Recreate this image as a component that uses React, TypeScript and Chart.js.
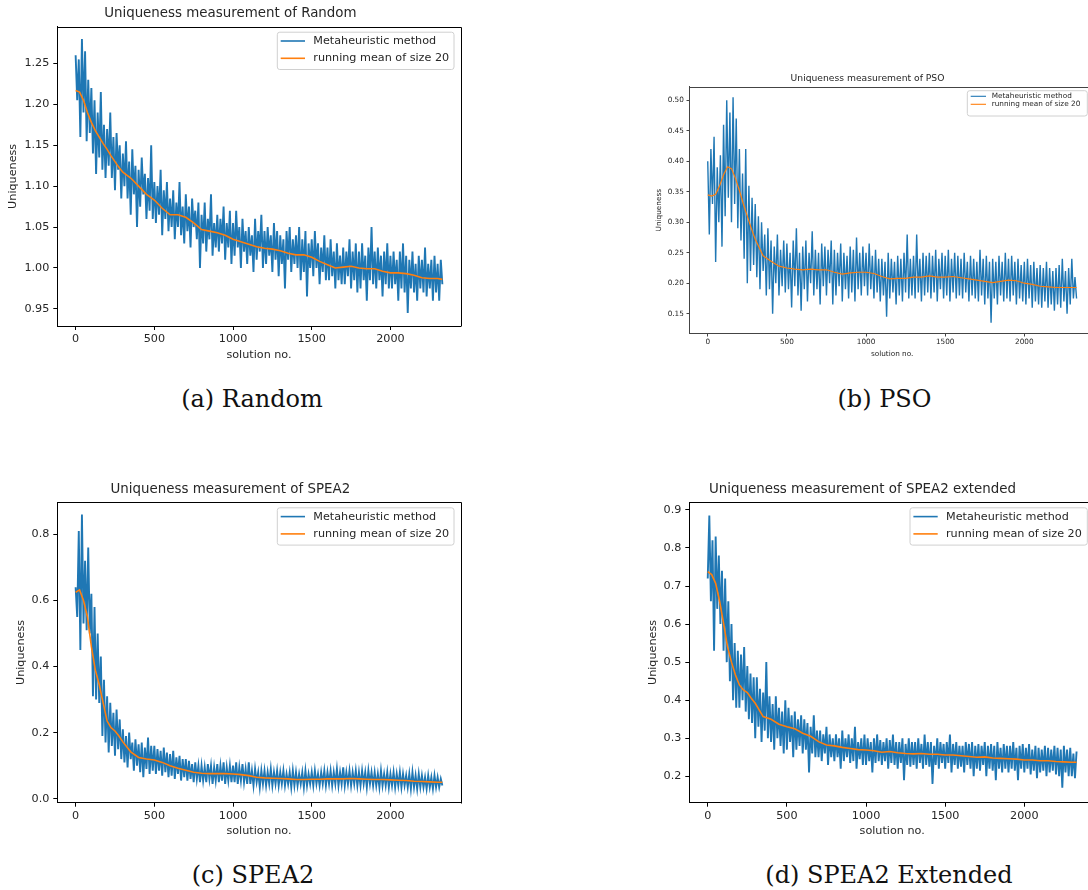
import React, { useEffect, useRef } from "react";
import { Chart, registerables } from "chart.js";

Chart.register(...registerables);

// ---------------- data ----------------
const SERIES_LABEL = "Metaheuristic method";
const MEAN_LABEL = "running mean of size 20";
const X_TITLE = "solution no.";
const Y_TITLE = "Uniqueness";
const X_TICKS = [0, 500, 1000, 1500, 2000];
const SAMPLE_STEP = 10; // solution numbers between the sampled points of the raw series

const MEAN_X = [
  0, 25, 50, 75, 100, 125, 150, 175, 200, 225, 250, 275, 300,
  350, 400, 450, 500, 550, 600, 650, 700, 750, 800,
  850, 900, 950, 1000, 1050, 1100, 1150, 1200, 1250, 1300,
  1350, 1400, 1450, 1500, 1550, 1600, 1650, 1700, 1750, 1800,
  1850, 1900, 1950, 2000, 2050, 2100, 2150, 2200, 2250, 2300,
  2330,
];

const RANDOM_VALUES = [
  1.26, 1.205, 1.255, 1.16, 1.28, 1.19, 1.265, 1.155, 1.23, 1.165,
  1.22, 1.14, 1.205, 1.115, 1.19, 1.135, 1.215, 1.12, 1.175, 1.11,
  1.17, 1.125, 1.19, 1.11, 1.16, 1.095, 1.165, 1.12, 1.15, 1.085,
  1.14, 1.1, 1.155, 1.085, 1.13, 1.065, 1.145, 1.09, 1.125, 1.05,
  1.12, 1.075, 1.135, 1.09, 1.115, 1.06, 1.11, 1.07, 1.15, 1.06,
  1.105, 1.055, 1.1, 1.065, 1.12, 1.04, 1.095, 1.06, 1.105, 1.045,
  1.085, 1.05, 1.095, 1.035, 1.08, 1.05, 1.105, 1.04, 1.075, 1.03,
  1.09, 1.045, 1.075, 1.025, 1.085, 1.05, 1.07, 1.035, 1.08, 1.0,
  1.065, 1.03, 1.08, 1.02, 1.06, 1.035, 1.09, 1.015, 1.055, 1.025,
  1.065, 1.02, 1.06, 1.03, 1.075, 1.01, 1.055, 1.025, 1.07, 1.005,
  1.055, 1.015, 1.07, 1.025, 1.05, 1.0, 1.06, 1.02, 1.045, 1.005,
  1.05, 1.015, 1.04, 0.995, 1.06, 1.01, 1.045, 1.02, 1.065, 1.0,
  1.045, 1.005, 1.05, 1.015, 1.04, 0.995, 1.055, 1.01, 1.045, 0.99,
  1.04, 1.005, 1.035, 0.975, 1.045, 1.01, 1.05, 0.995, 1.035, 1.005,
  1.04, 1.0, 1.05, 0.985, 1.035, 0.995, 1.045, 0.965, 1.03, 1.0,
  1.035, 0.99, 1.045, 1.0, 1.03, 0.98, 1.025, 0.995, 1.04, 0.985,
  1.025, 0.985, 1.035, 0.99, 1.02, 0.975, 1.03, 0.985, 1.015, 0.98,
  1.025, 0.98, 1.02, 0.99, 1.035, 0.975, 1.02, 0.985, 1.03, 0.97,
  1.02, 0.975, 1.03, 0.985, 1.015, 0.96, 1.025, 0.985, 1.05, 0.98,
  1.02, 0.975, 1.025, 0.985, 1.015, 0.965, 1.02, 0.98, 1.03, 0.975,
  1.015, 0.975, 1.02, 0.98, 1.01, 0.96, 1.02, 0.975, 1.03, 0.97,
  1.015, 0.945, 1.01, 0.975, 1.02, 0.97, 1.005, 0.96, 1.015, 0.975,
  1.01, 0.97, 1.025, 0.965, 1.005, 0.975, 1.01, 0.96, 1.015, 0.97,
  1.005, 0.96, 1.01, 0.98,
];
const RANDOM_MEAN = [
  1.217, 1.215, 1.205, 1.19, 1.178, 1.168, 1.16, 1.152, 1.145, 1.137, 1.13, 1.123, 1.117,
  1.11, 1.1, 1.09, 1.083, 1.073, 1.065, 1.065, 1.062, 1.055, 1.047,
  1.045, 1.043, 1.04, 1.035, 1.032, 1.029, 1.026, 1.024, 1.023, 1.021,
  1.018, 1.016, 1.016, 1.013, 1.008, 1.004, 1.0, 1.001, 1.002, 1.0,
  0.999, 0.999, 0.996, 0.994, 0.994, 0.993, 0.991, 0.988, 0.987, 0.987,
  0.986,
];
const RANDOM_Y_TICKS = [0.95, 1.0, 1.05, 1.1, 1.15, 1.2, 1.25];

const PSO_VALUES = [
  0.4, 0.28, 0.42, 0.33, 0.44, 0.235, 0.39, 0.3, 0.41, 0.26,
  0.46, 0.31, 0.5, 0.34, 0.48, 0.3, 0.505, 0.33, 0.47, 0.29,
  0.42, 0.27, 0.38, 0.24, 0.42, 0.2, 0.36, 0.22, 0.34, 0.23,
  0.33, 0.21, 0.31, 0.19, 0.3, 0.22, 0.28, 0.18, 0.29, 0.19,
  0.27, 0.15, 0.26, 0.2, 0.28, 0.18, 0.255, 0.195, 0.27, 0.185,
  0.265, 0.19, 0.25, 0.16, 0.27, 0.195, 0.29, 0.18, 0.25, 0.155,
  0.26, 0.19, 0.27, 0.17, 0.25, 0.2, 0.285, 0.18, 0.255, 0.19,
  0.25, 0.165, 0.265, 0.195, 0.26, 0.18, 0.255, 0.2, 0.27, 0.165,
  0.255, 0.18, 0.25, 0.195, 0.265, 0.17, 0.25, 0.19, 0.245, 0.175,
  0.26, 0.185, 0.255, 0.17, 0.275, 0.19, 0.25, 0.18, 0.26, 0.195,
  0.25, 0.18, 0.265, 0.19, 0.245, 0.175, 0.255, 0.185, 0.24, 0.17,
  0.24, 0.18, 0.235, 0.145, 0.25, 0.175, 0.24, 0.185, 0.235, 0.165,
  0.245, 0.18, 0.24, 0.17, 0.25, 0.185, 0.28, 0.175, 0.24, 0.18,
  0.245, 0.175, 0.28, 0.185, 0.24, 0.17, 0.25, 0.18, 0.245, 0.185,
  0.25, 0.175, 0.245, 0.185, 0.255, 0.17, 0.24, 0.19, 0.25, 0.175,
  0.245, 0.18, 0.255, 0.17, 0.24, 0.185, 0.25, 0.175, 0.245, 0.18,
  0.24, 0.175, 0.25, 0.185, 0.235, 0.17, 0.245, 0.18, 0.24, 0.175,
  0.235, 0.17, 0.255, 0.18, 0.24, 0.165, 0.245, 0.175, 0.235, 0.135,
  0.24, 0.175, 0.235, 0.165, 0.245, 0.18, 0.235, 0.17, 0.25, 0.175,
  0.24, 0.17, 0.245, 0.18, 0.235, 0.165, 0.24, 0.175, 0.23, 0.17,
  0.235, 0.165, 0.24, 0.175, 0.23, 0.16, 0.235, 0.17, 0.225, 0.165,
  0.23, 0.16, 0.225, 0.17, 0.235, 0.16, 0.225, 0.165, 0.22, 0.155,
  0.225, 0.165, 0.23, 0.16, 0.24, 0.17, 0.22, 0.15, 0.225, 0.165,
  0.24, 0.175, 0.21, 0.175,
];
const PSO_MEAN = [
  0.345, 0.343, 0.346, 0.36, 0.378, 0.391, 0.388, 0.372, 0.352, 0.33, 0.31, 0.29, 0.272,
  0.245, 0.236, 0.228, 0.225, 0.223, 0.222, 0.223, 0.222, 0.222, 0.218,
  0.215, 0.217, 0.218, 0.218, 0.216, 0.211, 0.207, 0.208, 0.208, 0.21,
  0.21, 0.212, 0.21, 0.21, 0.211, 0.209, 0.207, 0.205, 0.203, 0.201,
  0.203, 0.205, 0.204, 0.2, 0.198, 0.195, 0.194, 0.193, 0.193, 0.193,
  0.193,
];
const PSO_Y_TICKS = [0.15, 0.2, 0.25, 0.3, 0.35, 0.4, 0.45, 0.5];

const SPEA2_VALUES = [
  0.64, 0.55, 0.81, 0.45, 0.86, 0.53, 0.72, 0.51, 0.76, 0.5,
  0.62, 0.31, 0.58, 0.3, 0.5, 0.29, 0.43, 0.19, 0.36, 0.17,
  0.31, 0.14, 0.29, 0.16, 0.26, 0.13, 0.27, 0.15, 0.24, 0.12,
  0.21, 0.11, 0.19, 0.095, 0.2, 0.12, 0.17, 0.085, 0.18, 0.1,
  0.165, 0.08, 0.17, 0.065, 0.155, 0.09, 0.185, 0.075, 0.16, 0.085,
  0.16, 0.075, 0.15, 0.085, 0.145, 0.07, 0.155, 0.08, 0.14, 0.065,
  0.135, 0.07, 0.145, 0.06, 0.125, 0.075, 0.13, 0.055, 0.12, 0.065,
  0.12, 0.055, 0.115, 0.06, 0.105, 0.05, 0.11, 0.06, 0.1, 0.05,
  0.1, 0.055, 0.095, 0.05, 0.105, 0.06, 0.1, 0.045, 0.095, 0.055,
  0.105, 0.05, 0.1, 0.055, 0.11, 0.045, 0.095, 0.055, 0.1, 0.05,
  0.1, 0.05, 0.11, 0.045, 0.095, 0.055, 0.105, 0.05, 0.09, 0.045,
  0.11, 0.045, 0.085, 0.04, 0.09, 0.05, 0.08, 0.035, 0.085, 0.045,
  0.085, 0.04, 0.08, 0.045, 0.09, 0.04, 0.08, 0.045, 0.085, 0.04,
  0.08, 0.045, 0.085, 0.04, 0.075, 0.045, 0.08, 0.035, 0.085, 0.04,
  0.08, 0.04, 0.075, 0.045, 0.08, 0.035, 0.085, 0.04, 0.075, 0.045,
  0.08, 0.04, 0.085, 0.045, 0.075, 0.04, 0.08, 0.045, 0.085, 0.04,
  0.08, 0.045, 0.085, 0.04, 0.08, 0.045, 0.09, 0.04, 0.08, 0.045,
  0.095, 0.04, 0.08, 0.045, 0.085, 0.04, 0.08, 0.045, 0.085, 0.04,
  0.08, 0.04, 0.085, 0.045, 0.08, 0.035, 0.085, 0.045, 0.08, 0.04,
  0.08, 0.04, 0.075, 0.035, 0.085, 0.04, 0.075, 0.04, 0.08, 0.035,
  0.075, 0.04, 0.08, 0.035, 0.075, 0.04, 0.08, 0.035, 0.075, 0.04,
  0.07, 0.035, 0.075, 0.03, 0.08, 0.035, 0.07, 0.03, 0.075, 0.035,
  0.07, 0.035, 0.065, 0.03, 0.07, 0.035, 0.065, 0.03, 0.07, 0.035,
  0.065, 0.035, 0.06, 0.04,
];
const SPEA2_MEAN = [
  0.625, 0.632, 0.6, 0.55, 0.46, 0.39, 0.345, 0.29, 0.235, 0.215, 0.205, 0.19, 0.172,
  0.142, 0.125, 0.12, 0.117, 0.11, 0.1, 0.092, 0.086, 0.08, 0.077,
  0.076, 0.076, 0.076, 0.075, 0.073, 0.07, 0.065, 0.063, 0.062, 0.061,
  0.06, 0.058, 0.058, 0.059, 0.059, 0.06, 0.06, 0.06, 0.061, 0.06,
  0.059, 0.058, 0.058, 0.057, 0.056, 0.055, 0.053, 0.052, 0.051, 0.05,
  0.05,
];
const SPEA2_Y_TICKS = [0.0, 0.2, 0.4, 0.6, 0.8];

const EXT_VALUES = [
  0.72, 0.885, 0.66, 0.82, 0.53, 0.83, 0.64, 0.78, 0.6, 0.74,
  0.53, 0.72, 0.5, 0.66, 0.45, 0.6, 0.4, 0.55, 0.38, 0.53,
  0.38, 0.52, 0.4, 0.54, 0.37, 0.49, 0.35, 0.47, 0.34, 0.46,
  0.3, 0.46, 0.33, 0.43, 0.29, 0.42, 0.32, 0.5, 0.3, 0.41,
  0.29, 0.39, 0.27, 0.41, 0.3, 0.38, 0.28, 0.37, 0.26, 0.4,
  0.27, 0.38, 0.29, 0.36, 0.25, 0.37, 0.27, 0.35, 0.28, 0.36,
  0.26, 0.35, 0.27, 0.34, 0.21, 0.33, 0.26, 0.36, 0.25, 0.32,
  0.25, 0.32, 0.24, 0.31, 0.26, 0.33, 0.23, 0.31, 0.25, 0.3,
  0.24, 0.31, 0.25, 0.3, 0.22, 0.32, 0.24, 0.3, 0.25, 0.31,
  0.235, 0.3, 0.24, 0.33, 0.22, 0.29, 0.245, 0.3, 0.23, 0.31,
  0.23, 0.3, 0.24, 0.29, 0.21, 0.3, 0.235, 0.31, 0.24, 0.295,
  0.23, 0.29, 0.24, 0.3, 0.22, 0.295, 0.235, 0.31, 0.23, 0.29,
  0.22, 0.29, 0.235, 0.3, 0.19, 0.285, 0.23, 0.3, 0.225, 0.29,
  0.23, 0.29, 0.22, 0.3, 0.235, 0.285, 0.22, 0.31, 0.23, 0.29,
  0.225, 0.29, 0.18, 0.28, 0.23, 0.3, 0.22, 0.29, 0.235, 0.285,
  0.22, 0.29, 0.235, 0.31, 0.21, 0.285, 0.23, 0.29, 0.22, 0.28,
  0.225, 0.28, 0.21, 0.29, 0.23, 0.285, 0.22, 0.29, 0.2, 0.28,
  0.22, 0.285, 0.215, 0.28, 0.23, 0.29, 0.2, 0.28, 0.22, 0.285,
  0.215, 0.28, 0.19, 0.29, 0.22, 0.275, 0.21, 0.285, 0.22, 0.28,
  0.21, 0.28, 0.22, 0.29, 0.215, 0.275, 0.19, 0.28, 0.22, 0.285,
  0.21, 0.275, 0.22, 0.285, 0.205, 0.27, 0.215, 0.28, 0.195, 0.275,
  0.21, 0.27, 0.215, 0.28, 0.2, 0.275, 0.21, 0.27, 0.215, 0.28,
  0.205, 0.275, 0.2, 0.27, 0.17, 0.28, 0.21, 0.27, 0.2, 0.275,
  0.2, 0.26, 0.195, 0.265,
];
const EXT_MEAN = [
  0.738, 0.73, 0.707, 0.66, 0.602, 0.54, 0.5, 0.466, 0.44, 0.427, 0.42, 0.405, 0.392,
  0.357, 0.35, 0.337, 0.33, 0.325, 0.313, 0.305, 0.291, 0.282, 0.28,
  0.276, 0.273, 0.27, 0.269, 0.267, 0.263, 0.265, 0.262, 0.26, 0.259,
  0.26, 0.258, 0.258, 0.256, 0.256, 0.254, 0.252, 0.25, 0.251, 0.248,
  0.247, 0.246, 0.245, 0.243, 0.243, 0.241, 0.241, 0.239, 0.238, 0.237,
  0.237,
];
const EXT_Y_TICKS = [0.2, 0.3, 0.4, 0.5, 0.6, 0.7, 0.8, 0.9];

// ---------------- styling / layout ----------------
const BLUE = "#1f77b4";
const ORANGE = "#ff7f0e";
const TEXT = "#262626";
const SANS = "'DejaVu Sans', 'Noto Sans', sans-serif";
const X_MIN = -116.5;
const X_MAX = 2446.5;

type LegendSpec = {
  width: number; height: number; rightGap: number; topGap: number;
  rows: number[]; lineStart: number; lineEnd: number; textStart: number;
  fontSize: number; lineWidth: number;
};
type Panel = {
  title: string; caption: string;
  values: number[]; mean: number[]; yTicks: number[]; yDecimals: number;
  yMin: number; yMax: number;
  box: { left: number; top: number; width: number; height: number };
  plot: { left: number; top: number; right: number; bottom: number };
  titleSize: number; tickSize: number;
  titleY: number; yTitleX: number; xTitleY: number;
  tickLen: number; xTickPad: number; yTickPad: number;
  lineWidth: number; meanWidth: number; spine: string;
  legend: LegendSpec;
  captionX: number; captionY: number;
};

const BIG_LEGEND = (width: number, rightGap: number): LegendSpec => ({
  width, height: 37.3, rightGap, topGap: 5.5,
  rows: [8.8, 26.1], lineStart: 3.4, lineEnd: 27.7, textStart: 36,
  fontSize: 11.2, lineWidth: 1.6,
});

const PANELS: Panel[] = [
  {
    title: "Uniqueness measurement of Random", caption: "(a) Random",
    values: RANDOM_VALUES, mean: RANDOM_MEAN, yTicks: RANDOM_Y_TICKS, yDecimals: 2,
    yMin: 0.929, yMax: 1.295,
    box: { left: 0, top: 0, width: 472, height: 365 },
    plot: { left: 57.3, top: 26.7, right: 460.7, bottom: 326 },
    titleSize: 13.4, tickSize: 11.2, titleY: 14, yTitleX: 13, xTitleY: 355,
    tickLen: 4, xTickPad: 2.6, yTickPad: 4, lineWidth: 1.9, meanWidth: 1.6, spine: "#000",
    legend: BIG_LEGEND(176.7, 6.7),
    captionX: 252, captionY: 399,
  },
  {
    title: "Uniqueness measurement of PSO", caption: "(b) PSO",
    values: PSO_VALUES, mean: PSO_MEAN, yTicks: PSO_Y_TICKS, yDecimals: 2,
    yMin: 0.1172, yMax: 0.5223,
    box: { left: 640, top: 60, width: 460, height: 300 },
    plot: { left: 689.3, top: 86.7, right: 1095, bottom: 333.7 },
    titleSize: 9.2, tickSize: 7.3, titleY: 78.3, yTitleX: 659.3, xTitleY: 354,
    tickLen: 2.8, xTickPad: 1.6, yTickPad: 2.6, lineWidth: 1.4, meanWidth: 1.2, spine: "#444",
    legend: {
      width: 120, height: 25.3, rightGap: 7.7, topGap: 4,
      rows: [5.6, 13.6], lineStart: 3.4, lineEnd: 18.7, textStart: 24.4,
      fontSize: 7.3, lineWidth: 1.1,
    },
    captionX: 884.5, captionY: 399,
  },
  {
    title: "Uniqueness measurement of SPEA2", caption: "(c) SPEA2",
    values: SPEA2_VALUES, mean: SPEA2_MEAN, yTicks: SPEA2_Y_TICKS, yDecimals: 1,
    yMin: -0.012, yMax: 0.897,
    box: { left: 0, top: 470, width: 472, height: 370 },
    plot: { left: 57.3, top: 502.3, right: 460.7, bottom: 802.7 },
    titleSize: 13.4, tickSize: 11.2, titleY: 490, yTitleX: 20.7, xTitleY: 831,
    tickLen: 4, xTickPad: 2.6, yTickPad: 4, lineWidth: 1.9, meanWidth: 1.6, spine: "#000",
    legend: BIG_LEGEND(176.7, 6.7),
    captionX: 253, captionY: 875,
  },
  {
    title: "Uniqueness measurement of SPEA2 extended", caption: "(d) SPEA2 Extended",
    values: EXT_VALUES, mean: EXT_MEAN, yTicks: EXT_Y_TICKS, yDecimals: 1,
    yMin: 0.1306, yMax: 0.92,
    box: { left: 630, top: 470, width: 470, height: 370 },
    plot: { left: 689.3, top: 502.3, right: 1095, bottom: 802.7 },
    titleSize: 13.4, tickSize: 11.2, titleY: 490, yTitleX: 652.7, xTitleY: 831,
    tickLen: 4, xTickPad: 2.6, yTickPad: 4, lineWidth: 1.9, meanWidth: 1.6, spine: "#000",
    legend: BIG_LEGEND(177.3, 7.7),
    captionX: 889, captionY: 875,
  },
];

function ChartPanel({ panel }: { panel: Panel }) {
  const ref = useRef<HTMLCanvasElement | null>(null);

  useEffect(() => {
    const canvas = ref.current;
    if (!canvas) return;
    const p = panel;
    const lhTitle = p.titleSize * 1.2;
    const lhTick = p.tickSize * 1.2;
    const padTop = p.titleY - p.box.top - lhTitle / 2;
    const titleBottomPad = p.plot.top - p.box.top - padTop - lhTitle;
    const yAxisWidth = p.plot.left - p.box.left;
    const xAxisHeight = p.box.top + p.box.height - p.plot.bottom;
    const padRight = p.box.left + p.box.width - p.plot.right;
    const xTitleBottomPad = p.box.top + p.box.height - p.xTitleY - lhTick / 2;
    const yTitleTopPad = p.yTitleX - p.box.left - lhTick / 2;
    const tickFont = { family: SANS, size: p.tickSize, lineHeight: 1.2 };

    const framePlugin = {
      id: "frame",
      afterDatasetsDraw(chart: any) {
        const { ctx, chartArea: a } = chart;
        ctx.save();
        ctx.strokeStyle = p.spine;
        ctx.lineWidth = 1;
        ctx.beginPath();
        ctx.moveTo(Math.round(a.left) + 0.5, Math.round(a.top) + 0.5);
        ctx.lineTo(Math.round(a.right) + 0.5, Math.round(a.top) + 0.5);
        ctx.lineTo(Math.round(a.right) + 0.5, Math.round(a.bottom) + 0.5);
        ctx.stroke();
        ctx.restore();
      },
    };

    const legendPlugin = {
      id: "innerLegend",
      afterDraw(chart: any) {
        const { ctx, chartArea: a } = chart;
        const L = p.legend;
        const bx = a.right - L.rightGap - L.width;
        const by = a.top + L.topGap;
        ctx.save();
        ctx.beginPath();
        const r = 2.5;
        ctx.moveTo(bx + r, by);
        ctx.lineTo(bx + L.width - r, by);
        ctx.arcTo(bx + L.width, by, bx + L.width, by + r, r);
        ctx.lineTo(bx + L.width, by + L.height - r);
        ctx.arcTo(bx + L.width, by + L.height, bx + L.width - r, by + L.height, r);
        ctx.lineTo(bx + r, by + L.height);
        ctx.arcTo(bx, by + L.height, bx, by + L.height - r, r);
        ctx.lineTo(bx, by + r);
        ctx.arcTo(bx, by, bx + r, by, r);
        ctx.closePath();
        ctx.fillStyle = "rgba(255,255,255,0.8)";
        ctx.fill();
        ctx.strokeStyle = "#d0d0d0";
        ctx.lineWidth = 1;
        ctx.stroke();
        const items = [chart.data.datasets[0], chart.data.datasets[1]];
        ctx.font = `${L.fontSize}px ${SANS}`;
        ctx.textBaseline = "middle";
        ctx.textAlign = "left";
        items.forEach((ds: any, i: number) => {
          const y = by + L.rows[i];
          ctx.strokeStyle = ds.borderColor;
          ctx.lineWidth = L.lineWidth;
          ctx.beginPath();
          ctx.moveTo(bx + L.lineStart, y);
          ctx.lineTo(bx + L.lineEnd, y);
          ctx.stroke();
          ctx.fillStyle = TEXT;
          ctx.fillText(ds.label, bx + L.textStart, y);
        });
        ctx.restore();
      },
    };

    const chart = new Chart(canvas, {
      type: "line",
      data: {
        datasets: [
          {
            label: SERIES_LABEL,
            data: p.values.map((v, i) => ({ x: i * SAMPLE_STEP, y: v })),
            borderColor: BLUE,
            backgroundColor: BLUE,
            borderWidth: p.lineWidth,
            pointRadius: 0,
            tension: 0,
            order: 1,
          },
          {
            label: MEAN_LABEL,
            data: MEAN_X.map((x, i) => ({ x, y: p.mean[i] })),
            borderColor: ORANGE,
            backgroundColor: ORANGE,
            borderWidth: p.meanWidth,
            pointRadius: 0,
            tension: 0,
            order: 0,
          },
        ],
      },
      options: {
        responsive: false,
        animation: false,
        devicePixelRatio: 1,
        layout: { padding: { left: 0, top: padTop, right: padRight, bottom: 0 } },
        plugins: {
          legend: { display: false },
          tooltip: { enabled: false },
          title: {
            display: true,
            text: p.title,
            color: TEXT,
            font: { family: SANS, size: p.titleSize, weight: "normal", lineHeight: 1.2 },
            padding: { top: 0, bottom: titleBottomPad },
          },
        },
        scales: {
          x: {
            type: "linear",
            min: X_MIN,
            max: X_MAX,
            afterBuildTicks: (scale: any) => {
              scale.ticks = X_TICKS.map((v) => ({ value: v }));
            },
            afterFit: (scale: any) => {
              scale.height = xAxisHeight;
            },
            ticks: {
              autoSkip: false,
              maxRotation: 0,
              color: TEXT,
              font: tickFont,
              padding: p.xTickPad,
              callback: (v: any) => String(v),
            },
            grid: {
              display: true,
              drawOnChartArea: false,
              drawTicks: true,
              tickLength: p.tickLen,
              color: p.spine,
              lineWidth: 1,
            },
            border: { display: true, color: p.spine, width: 1 },
            title: {
              display: true,
              text: X_TITLE,
              color: TEXT,
              font: tickFont,
              padding: { top: 0, bottom: xTitleBottomPad },
            },
          },
          y: {
            type: "linear",
            min: p.yMin,
            max: p.yMax,
            afterBuildTicks: (scale: any) => {
              scale.ticks = p.yTicks.map((v) => ({ value: v }));
            },
            afterFit: (scale: any) => {
              scale.width = yAxisWidth;
            },
            ticks: {
              autoSkip: false,
              color: TEXT,
              font: tickFont,
              padding: p.yTickPad,
              callback: (v: any) => Number(v).toFixed(p.yDecimals),
            },
            grid: {
              display: true,
              drawOnChartArea: false,
              drawTicks: true,
              tickLength: p.tickLen,
              color: p.spine,
              lineWidth: 1,
            },
            border: { display: true, color: p.spine, width: 1 },
            title: {
              display: true,
              text: Y_TITLE,
              color: TEXT,
              font: tickFont,
              padding: { top: yTitleTopPad, bottom: 0 },
            },
          },
        },
      },
      plugins: [framePlugin, legendPlugin],
    } as any);

    return () => chart.destroy();
  }, [panel]);

  return (
    <canvas
      ref={ref}
      width={panel.box.width}
      height={panel.box.height}
      style={{
        position: "absolute",
        left: panel.box.left,
        top: panel.box.top,
        width: panel.box.width,
        height: panel.box.height,
      }}
    />
  );
}

export default function App() {
  return (
    <div
      style={{
        position: "fixed",
        left: 0,
        top: 0,
        width: 1088,
        height: 890,
        overflow: "hidden",
        background: "#fff",
      }}
    >
      {PANELS.map((p) => (
        <ChartPanel key={p.caption} panel={p} />
      ))}
      {PANELS.map((p) => (
        <div
          key={"cap" + p.caption}
          style={{
            position: "absolute",
            left: p.captionX - 200,
            top: p.captionY - 15,
            width: 400,
            height: 30,
            lineHeight: "30px",
            textAlign: "center",
            fontFamily: "'DejaVu Serif', 'Liberation Serif', serif",
            fontSize: 24,
            color: "#111",
            whiteSpace: "nowrap",
          }}
        >
          {p.caption}
        </div>
      ))}
    </div>
  );
}
